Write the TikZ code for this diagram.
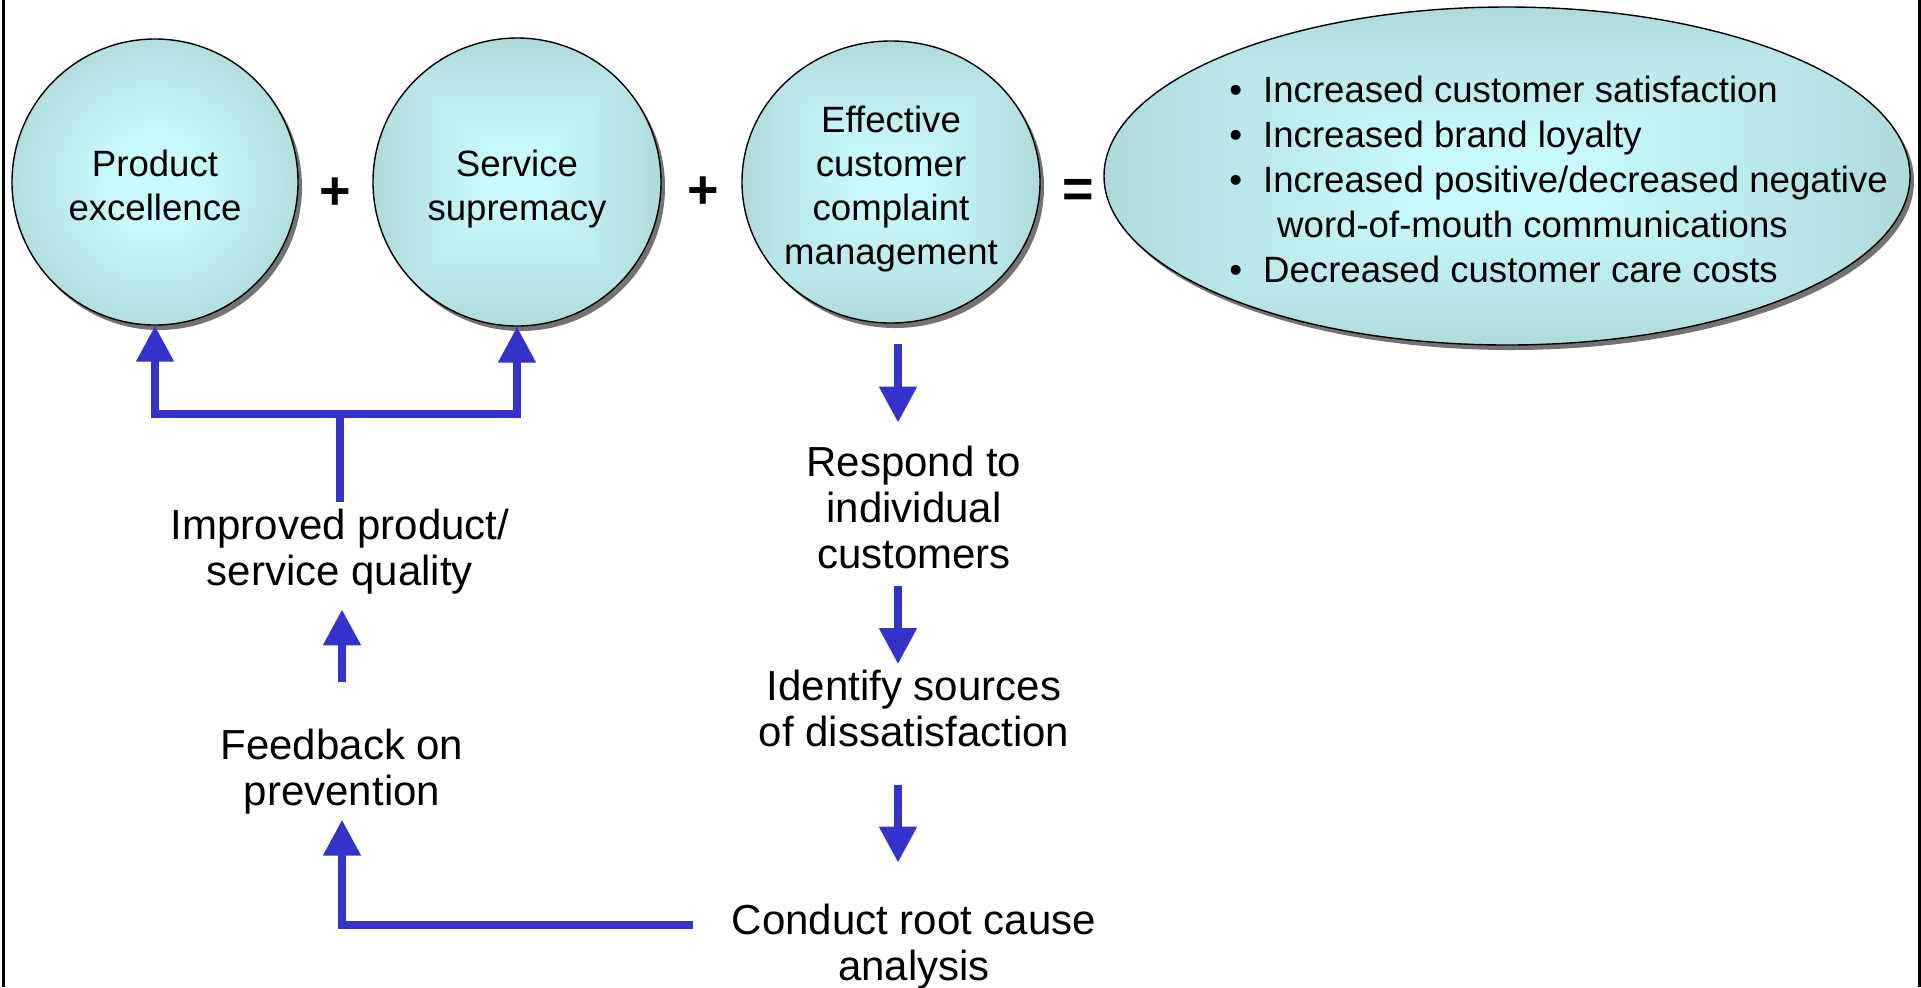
\documentclass[tikz,border=0pt]{standalone}
\usepackage{fontspec}
\setmainfont{Liberation Sans}
\usetikzlibrary{arrows.meta,shapes.geometric,shadows,calc}
\definecolor{cc}{RGB}{200,250,250}
\definecolor{ce}{RGB}{156,194,194}
\definecolor{arrblue}{RGB}{51,51,204}
\pgfdeclareradialshading{radsh}{\pgfpoint{0bp}{0bp}}{color(0bp)=(cc); color(8bp)=(cc); color(42bp)=(ce); color(50bp)=(ce)}
\pgfdeclarefunctionalshading{rectsh}{\pgfpoint{-50bp}{-50bp}}{\pgfpoint{50bp}{50bp}}{}{
abs exch abs 2 copy lt {exch} if pop 50 div
0.1 sub 0.7 div dup 0 lt {pop 0} if dup 1 gt {pop 1} if
dup -0.172 mul 0.784 add exch dup -0.219 mul 0.98 add exch -0.219 mul 0.98 add
}
\newcommand\bubtext[1]{\raisebox{-8.1pt}[0pt][0pt]{\makebox[0pt]{\begin{tabular}{@{}c@{}}#1\end{tabular}}}}
\newcommand\steptext[1]{\begin{tabular}{@{}c@{}}#1\end{tabular}}
\tikzset{
  bubble/.style={ellipse, draw=black, line width=0.7pt, inner sep=0pt,
    font=\fontsize{18.3}{22}\selectfont,
    drop shadow={shadow xshift=2pt, shadow yshift=-2.5pt, fill=black!55, opacity=1}},
  opsign/.style={font=\fontsize{27}{30}\selectfont\bfseries, inner sep=0pt, anchor=base},
  stepnode/.style={font=\fontsize{21}{23}\selectfont, inner sep=0pt},
  bar/.style={draw=arrblue, line width=4pt, line join=miter},
  arr/.style={bar, -{Triangle[width=18pt,length=18pt]}},
}
\begin{document}
\begin{tikzpicture}[x=0.5pt,y=-0.5pt]
\useasboundingbox (0,0) rectangle (1921,987);
% side rules
\draw[line width=1.5pt] (3.3,0) -- (3.3,987);
\draw[line width=1.5pt] (1919.5,0) -- (1919.5,987);
% bubbles
\node[bubble, shading=radsh, minimum width=143pt, minimum height=143pt] (pe) at (155,182)
  {\bubtext{Product\\excellence}};
\node[bubble, shading=rectsh, minimum width=144pt, minimum height=144pt] (ss) at (517,182)
  {\bubtext{Service\\supremacy}};
\node[bubble, shading=rectsh, minimum width=149pt, minimum height=141pt] (ecm) at (891,182)
  {\bubtext{Effective\\customer\\complaint\\management}};
\node[bubble, shading=rectsh, minimum width=403pt, minimum height=169pt] (out) at (1507,176) {};
\node[anchor=north west, inner sep=0pt, font=\fontsize{18.3}{22.5}\selectfont] (outtext) at (1229,70.5)
  {\begin{tabular}{@{}l@{\hspace{10.5pt}}l@{}}
   • & Increased customer satisfaction\\
   • & Increased brand loyalty\\
   • & Increased positive/decreased negative\\
     & \hspace{7pt}word-of-mouth communications\\
   • & Decreased customer care costs
   \end{tabular}};
% operators
\node[opsign] (plus1) at (335,209) {+};
\node[opsign] (plus2) at (703,208) {+};
\node[opsign] (eq) at (1078,207) {=};
% step texts
\node[stepnode] (rt) at (914,512.8) {\steptext{Respond to\\individual\\customers}};
\node[stepnode] (isd) at (914,714.3) {\steptext{Identify sources\\of dissatisfaction}};
\node[stepnode] (crc) at (914,947.8) {\steptext{Conduct root cause\\analysis}};
\node[stepnode] (fp) at (342,773.3) {\steptext{Feedback on\\prevention}};
\node[stepnode] (ipq) at (340,552.8) {\steptext{Improved product/\\service quality}};
% connectors
\coordinate (colx) at (898,0);
\coordinate (j) at (340,414);
\draw[arr, shorten <=10pt, shorten >=10.4pt] (ecm.south -| colx) -- (rt.north -| colx);
\draw[arr, shorten <=2.1pt, shorten >=1.9pt] (rt.south -| colx) -- (isd.north -| colx);
\draw[arr, shorten <=12.1pt, shorten >=19.4pt] (isd.south -| colx) -- (crc.north -| colx);
\draw[arr, shorten <=19.5pt] ([yshift=11.4pt]crc.west) -| (fp.south);
\draw[arr, shorten <=22.4pt, shorten >=5.1pt] (fp.north) -- (fp.north |- ipq.south);
\draw[bar, shorten <=2.4pt] (ipq.north) -- (j);
\draw[arr] (j) -| (pe.south);
\draw[arr] (j) -| (ss.south);
\end{tikzpicture}
\end{document}
